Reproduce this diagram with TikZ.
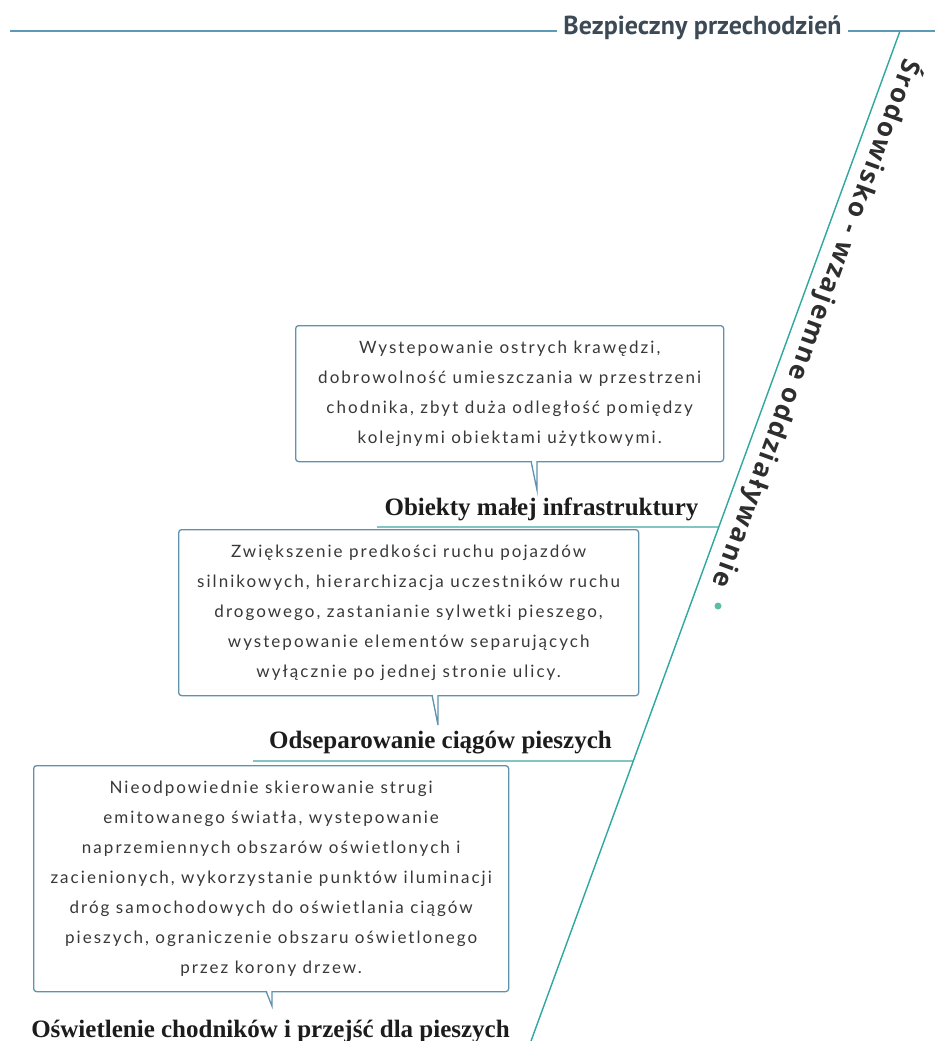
\documentclass[tikz,border=0pt]{standalone}
\usepackage{fontspec}
\setmainfont{Liberation Serif}
\newfontfamily\topfont{PT Sans}
\newfontfamily\diagfont[LetterSpace=8]{Open Sans}
\newfontfamily\boxfont[LetterSpace=12]{Lato}
\usetikzlibrary{calc}
\definecolor{toplinec}{HTML}{5B9BB5}
\definecolor{spinec}{HTML}{2EA89E}
\definecolor{branchc}{HTML}{3FA7A0}
\definecolor{boxc}{HTML}{5F93AD}
\definecolor{titlec}{HTML}{3B4A56}
\definecolor{sidec}{HTML}{2E2E2E}
\definecolor{headc}{HTML}{1C1C1C}
\definecolor{boxtextc}{HTML}{383838}
\definecolor{dotc}{HTML}{5CBFA5}
\tikzset{
  topline/.style={draw=toplinec, line width=1.1pt},
  spine/.style={draw=spinec, line width=1.4pt},
  branch/.style={draw=branchc, line width=1.2pt},
  toplabel/.style={fill=white, anchor=base, inner xsep=6pt, inner ysep=2pt, text=titlec, font=\topfont\bfseries\fontsize{26}{28}\selectfont},
  headlabel/.style={inner sep=0pt, anchor=base, text=headc, font=\bfseries\fontsize{25}{28}\selectfont},
  diaglabel/.style={inner sep=0pt, text=sidec, font=\diagfont\bfseries\fontsize{26}{28}\selectfont},
  callout/.style={draw=boxc, line width=1.3pt, rounded corners=3pt, fill=white, anchor=north west, inner sep=0pt, align=center, text=boxtextc, font=\boxfont\fontsize{17}{30}\selectfont},
  pointer/.style={draw=boxc, line width=1.3pt, line join=miter},
}
\begin{document}
\begin{tikzpicture}[x=1pt,y=-1pt]
\useasboundingbox (0,0) rectangle (935,1041);
\fill[white] (0,0) rectangle (935,1041);

% top line and title
\coordinate (L0) at (10,31);
\coordinate (R0) at (935,31);
\draw[topline] (L0) -- (R0);
\node[toplabel] (title) at (702.5,35) {Bezpieczny przechodzień};

% spine
\coordinate (S0) at (900,31);
\coordinate (S1) at (531,1041);
\draw[spine] (S0) -- (S1);

% branch lines
\coordinate (H1s) at (377,527);
\coordinate (H1e) at ($(S0)!0.4911!(S1)$);
\draw[branch] (H1s) -- (H1e);
\coordinate (H2s) at (253,761);
\coordinate (H2e) at ($(S0)!0.7228!(S1)$);
\draw[branch] (H2s) -- (H2e);

% side label
\node[diaglabel, rotate=-110] (side) at (817,324) {Środowisko - wzajemne oddziaływanie};
\node[circle, fill=dotc, inner sep=0pt, minimum size=7pt] (dot) at (718,606) {};

% box 1
\node[callout, minimum width=428pt, minimum height=136pt] (b1) at (295,325)
 {Wystepowanie ostrych krawędzi,\\dobrowolność umieszczania w przestrzeni\\chodnika, zbyt duża odległość pomiędzy\\kolejnymi obiektami użytkowymi.};
\coordinate (p1a) at (531,461);
\coordinate (p1b) at (537,461);
\coordinate (p1c) at (537,490);
\fill[white] ($(p1a)+(0.8,-1)$) -- ($(p1b)+(0,-1)$) -- (p1c) -- cycle;
\draw[pointer] (p1a) -- (p1c) -- (p1b);
\node[headlabel] (h1) at (541.5,515) {Obiekty małej infrastruktury};

% box 2
\node[callout, minimum width=460pt, minimum height=166pt] (b2) at (178,529)
 {Zwiększenie predkości ruchu pojazdów\\silnikowych, hierarchizacja uczestników ruchu\\drogowego, zastanianie sylwetki pieszego,\\wystepowanie elementów separujących\\wyłącznie po jednej stronie ulicy.};
\coordinate (p2a) at (432,695);
\coordinate (p2b) at (438,695);
\coordinate (p2c) at (438,725);
\fill[white] ($(p2a)+(0.8,-1)$) -- ($(p2b)+(0,-1)$) -- (p2c) -- cycle;
\draw[pointer] (p2a) -- (p2c) -- (p2b);
\node[headlabel] (h2) at (440.5,748) {Odseparowanie ciągów pieszych};

% box 3
\node[callout, minimum width=475pt, minimum height=226pt] (b3) at (33,765)
 {Nieodpowiednie skierowanie strugi\\emitowanego światła, wystepowanie\\naprzemiennych obszarów oświetlonych i\\zacienionych, wykorzystanie punktów iluminacji\\dróg samochodowych do oświetlania ciągów\\pieszych, ograniczenie obszaru oświetlonego\\przez korony drzew.};
\coordinate (p3a) at (266,991);
\coordinate (p3b) at (272,991);
\coordinate (p3c) at (272,1006);
\fill[white] ($(p3a)+(0.8,-1)$) -- ($(p3b)+(0,-1)$) -- (p3c) -- cycle;
\draw[pointer] (p3a) -- (p3c) -- (p3b);
\node[headlabel] (h3) at (270.5,1037) {Oświetlenie chodników i przejść dla pieszych};
\end{tikzpicture}
\end{document}
